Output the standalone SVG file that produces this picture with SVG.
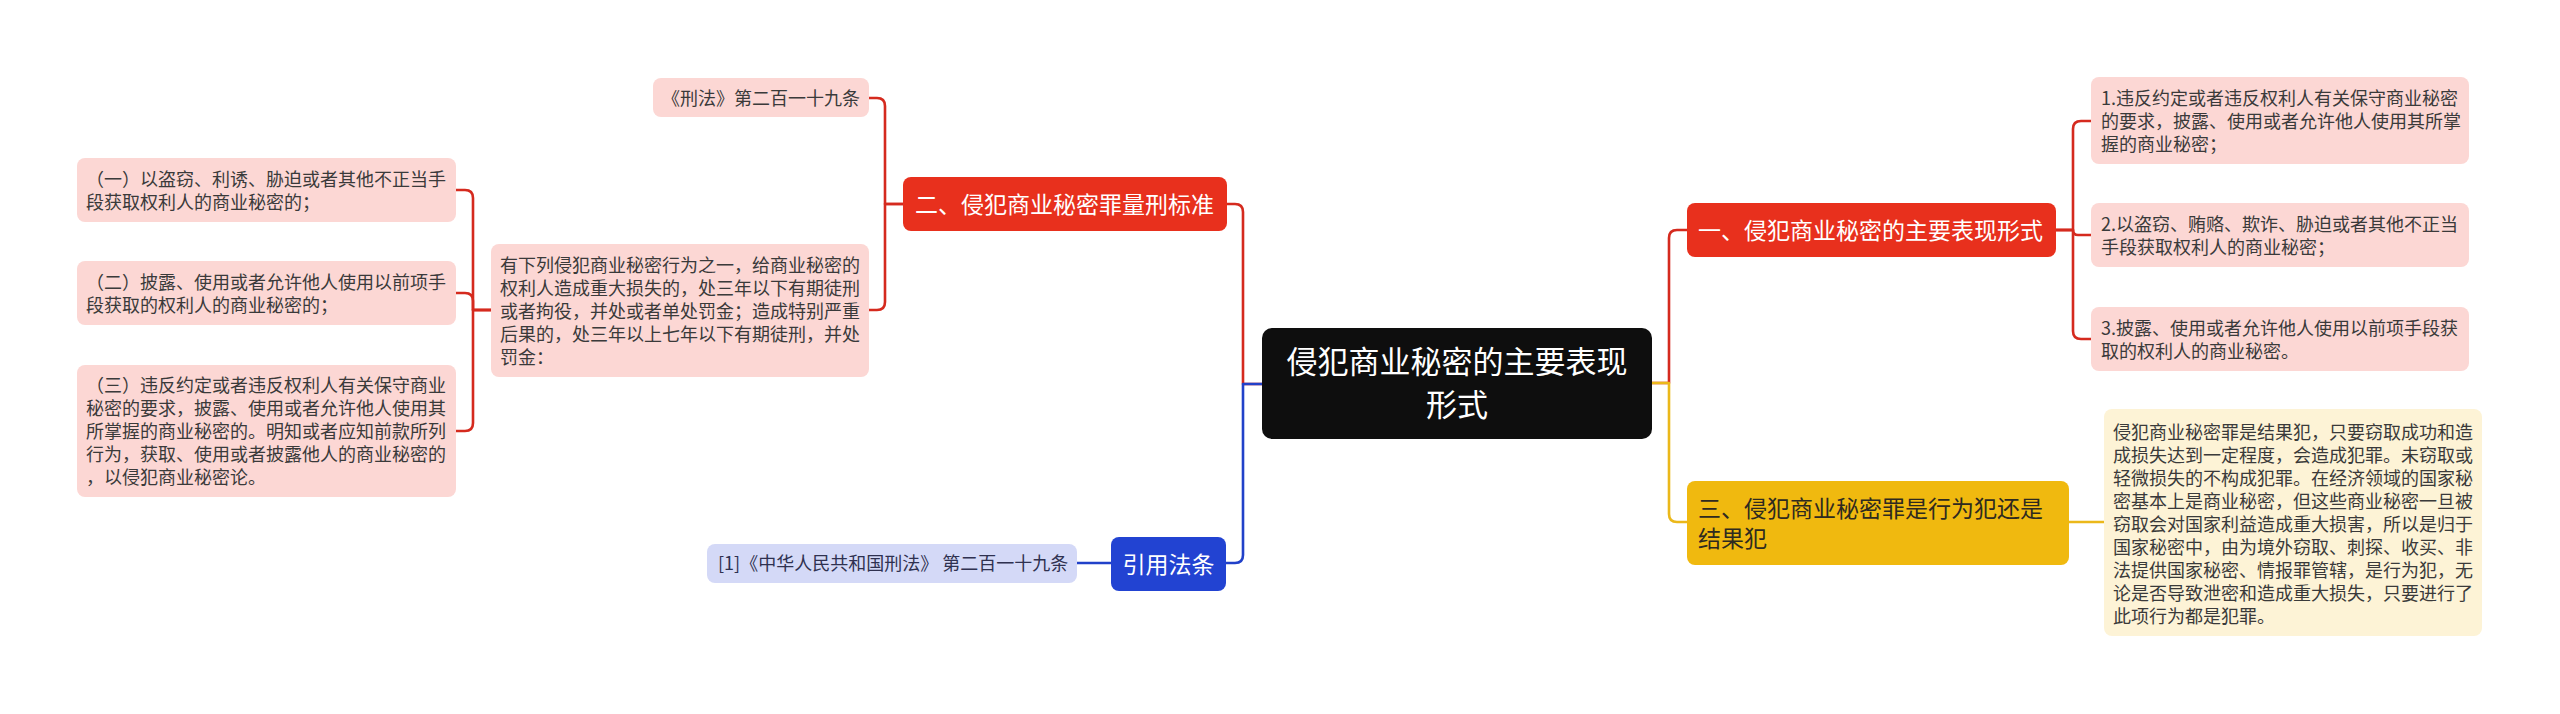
<svg xmlns="http://www.w3.org/2000/svg" width="2560" height="714" viewBox="0 0 2560 714">
<style>
text{font-family:"Noto Sans CJK SC","Noto Sans",sans-serif;}
.root{fill:#0e0e0e;}
.rootT{fill:#ffffff;font-size:31px;text-anchor:middle;}
.redB{fill:#e8301d;}
.bT{fill:#ffffff;font-size:23px;}
.yelB{fill:#f0b90f;}
.yT{fill:#2e2a20;font-size:23px;}
.bluB{fill:#2243d2;}
.pink{fill:#fcd7d4;}
.cream{fill:#fdf3d6;}
.lav{fill:#d4d9f7;}
.lT{fill:#3a3a3a;font-size:18px;}
.blT{fill:#2f3150;font-size:18px;}
.c{fill:none;stroke-width:2.6;stroke-linejoin:round;}
.cr{stroke:#d52a1e;}
.cy{stroke:#ebb81a;}
.cb{stroke:#2141c9;}
</style>
<rect width="2560" height="714" fill="#ffffff"/>
<g id="connectors">
<path class="c cr" d="M1262,384 H1243 V212 Q1243,204 1235,204 H1227"/>
<path class="c cb" d="M1262,384 H1243 V555 Q1243,563 1235,563 H1226"/>
<path class="c cb" d="M1111,563 H1077"/>
<path class="c cr" d="M903,204 H885 V106 Q885,98 877,98 H869"/>
<path class="c cr" d="M903,204 H885 V302 Q885,310 877,310 H869"/>
<path class="c cr" d="M491,310 H473 V198 Q473,190 465,190 H456"/>
<path class="c cr" d="M491,310 H473 V301 Q473,293 465,293 H456"/>
<path class="c cr" d="M491,310 H473 V423 Q473,431 465,431 H456"/>
<path class="c cr" d="M1652,383 H1669 V238 Q1669,230 1677,230 H1687"/>
<path class="c cy" d="M1652,383 H1669 V514 Q1669,522 1677,522 H1687"/>
<path class="c cr" d="M2056,230 H2073 V129 Q2073,121 2081,121 H2091"/>
<path class="c cr" d="M2056,230 H2073 Q2073,235 2078,235 H2091"/>
<path class="c cr" d="M2056,230 H2073 V331 Q2073,339 2081,339 H2091"/>
<path class="c cy" d="M2069,522 H2104"/>
</g>
<g id="root">
<rect class="root" x="1262" y="328" width="390" height="111" rx="10"/>
<text class="rootT" x="1457" y="373">侵犯商业秘密的主要表现</text>
<text class="rootT" x="1457" y="416">形式</text>
</g>
<g id="b1">
<rect class="redB" x="1687" y="203" width="369" height="54" rx="8"/>
<text class="bT" x="1698" y="238.5">一、侵犯商业秘密的主要表现形式</text>
</g>
<g id="b1-1">
<rect class="pink" x="2091" y="77" width="378" height="87" rx="8"/>
<text class="lT" x="2101" y="104.5">1.违反约定或者违反权利人有关保守商业秘密</text>
<text class="lT" x="2101" y="127.5">的要求，披露、使用或者允许他人使用其所掌</text>
<text class="lT" x="2101" y="150.5">握的商业秘密；</text>
</g>
<g id="b1-2">
<rect class="pink" x="2091" y="203" width="378" height="64" rx="8"/>
<text class="lT" x="2101" y="230.5">2.以盗窃、贿赂、欺诈、胁迫或者其他不正当</text>
<text class="lT" x="2101" y="253.5">手段获取权利人的商业秘密；</text>
</g>
<g id="b1-3">
<rect class="pink" x="2091" y="307" width="378" height="64" rx="8"/>
<text class="lT" x="2101" y="334.5">3.披露、使用或者允许他人使用以前项手段获</text>
<text class="lT" x="2101" y="357.5">取的权利人的商业秘密。</text>
</g>
<g id="b3">
<rect class="yelB" x="1687" y="481" width="382" height="84" rx="8"/>
<text class="yT" x="1698" y="516.5">三、侵犯商业秘密罪是行为犯还是</text>
<text class="yT" x="1698" y="546.5">结果犯</text>
</g>
<g id="b3-1">
<rect class="cream" x="2104" y="409" width="378" height="227" rx="8"/>
<text class="lT" x="2113" y="438.5">侵犯商业秘密罪是结果犯，只要窃取成功和造</text>
<text class="lT" x="2113" y="461.5">成损失达到一定程度，会造成犯罪。未窃取或</text>
<text class="lT" x="2113" y="484.5">轻微损失的不构成犯罪。在经济领域的国家秘</text>
<text class="lT" x="2113" y="507.5">密基本上是商业秘密，但这些商业秘密一旦被</text>
<text class="lT" x="2113" y="530.5">窃取会对国家利益造成重大损害，所以是归于</text>
<text class="lT" x="2113" y="553.5">国家秘密中，由为境外窃取、刺探、收买、非</text>
<text class="lT" x="2113" y="576.5">法提供国家秘密、情报罪管辖，是行为犯，无</text>
<text class="lT" x="2113" y="599.5">论是否导致泄密和造成重大损失，只要进行了</text>
<text class="lT" x="2113" y="622.5">此项行为都是犯罪。</text>
</g>
<g id="b2">
<rect class="redB" x="903" y="177" width="324" height="54" rx="8"/>
<text class="bT" x="915" y="212.5">二、侵犯商业秘密罪量刑标准</text>
</g>
<g id="b2-1">
<rect class="pink" x="653" y="78" width="216" height="39" rx="8"/>
<text class="lT" x="662" y="104.5">《刑法》第二百一十九条</text>
</g>
<g id="b2-2">
<rect class="pink" x="491" y="244" width="378" height="133" rx="8"/>
<text class="lT" x="500" y="271.5">有下列侵犯商业秘密行为之一，给商业秘密的</text>
<text class="lT" x="500" y="294.5">权利人造成重大损失的，处三年以下有期徒刑</text>
<text class="lT" x="500" y="317.5">或者拘役，并处或者单处罚金；造成特别严重</text>
<text class="lT" x="500" y="340.5">后果的，处三年以上七年以下有期徒刑，并处</text>
<text class="lT" x="500" y="363.5">罚金：</text>
</g>
<g id="b2-2-1">
<rect class="pink" x="77" y="158" width="379" height="64" rx="8"/>
<text class="lT" x="86" y="185.5">（一）以盗窃、利诱、胁迫或者其他不正当手</text>
<text class="lT" x="86" y="208.5">段获取权利人的商业秘密的；</text>
</g>
<g id="b2-2-2">
<rect class="pink" x="77" y="261" width="379" height="64" rx="8"/>
<text class="lT" x="86" y="288.5">（二）披露、使用或者允许他人使用以前项手</text>
<text class="lT" x="86" y="311.5">段获取的权利人的商业秘密的；</text>
</g>
<g id="b2-2-3">
<rect class="pink" x="77" y="365" width="379" height="132" rx="8"/>
<text class="lT" x="86" y="391.5">（三）违反约定或者违反权利人有关保守商业</text>
<text class="lT" x="86" y="414.5">秘密的要求，披露、使用或者允许他人使用其</text>
<text class="lT" x="86" y="437.5">所掌握的商业秘密的。明知或者应知前款所列</text>
<text class="lT" x="86" y="460.5">行为，获取、使用或者披露他人的商业秘密的</text>
<text class="lT" x="86" y="483.5">，以侵犯商业秘密论。</text>
</g>
<g id="b4">
<rect class="bluB" x="1111" y="537" width="115" height="54" rx="8"/>
<text class="bT" x="1168.5" y="572.5" text-anchor="middle">引用法条</text>
</g>
<g id="b4-1">
<rect class="lav" x="707" y="544" width="370" height="39" rx="8"/>
<text class="blT" x="718" y="570">[1]《中华人民共和国刑法》 第二百一十九条</text>
</g>
</svg>
